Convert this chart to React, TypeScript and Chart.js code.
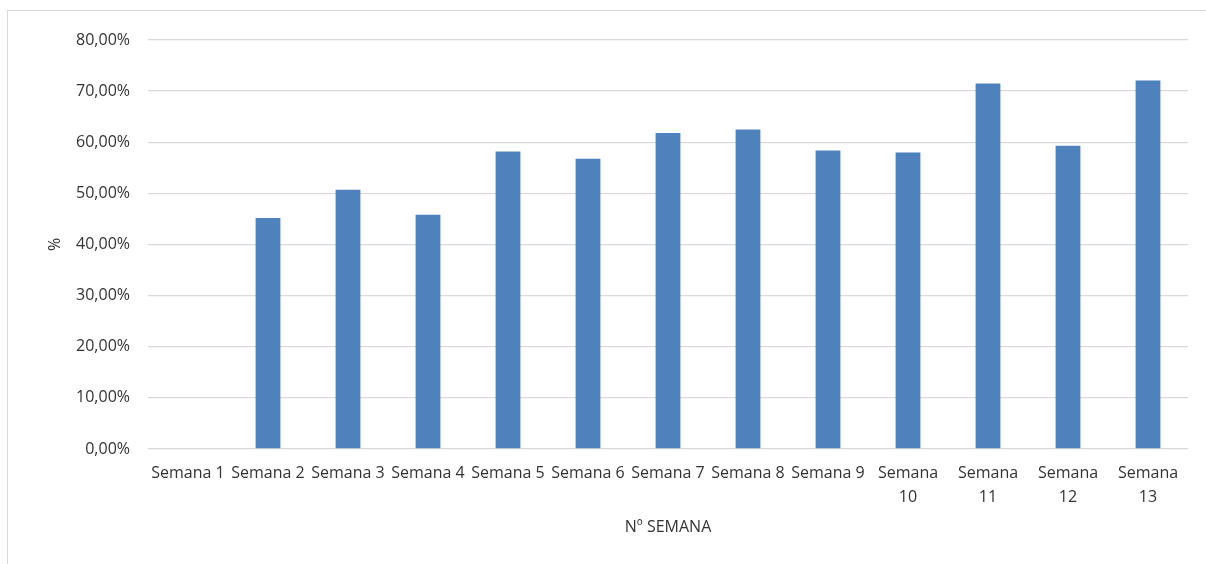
import React, { useEffect, useRef } from "react";
import { Chart, registerables } from "chart.js";

Chart.register(...registerables);

const categories: string[] = [
  "Semana 1", "Semana 2", "Semana 3", "Semana 4", "Semana 5", "Semana 6", "Semana 7",
  "Semana 8", "Semana 9", "Semana 10", "Semana 11", "Semana 12", "Semana 13",
];
const percentValues: number[] = [0, 45.2, 50.7, 45.8, 58.2, 56.75, 61.8, 62.5, 58.4, 58.0, 71.5, 59.3, 72.1];
const yTickValues: number[] = [0, 10, 20, 30, 40, 50, 60, 70, 80];
const xTitle = "Nº SEMANA";
const yTitle = "%";

const FONT = "'Open Sans', 'Noto Sans', sans-serif";
const TEXT = "#333333";

export default function App() {
  const ref = useRef<HTMLCanvasElement | null>(null);
  useEffect(() => {
    if (!ref.current) return;
    const chart = new Chart(ref.current, {
      type: "bar",
      data: {
        labels: categories,
        datasets: [
          {
            data: percentValues,
            backgroundColor: "#4F81BD",
            borderWidth: 0,
            barPercentage: 0.31,
            categoryPercentage: 1,
          },
        ],
      },
      options: {
        responsive: false,
        animation: false,
        maintainAspectRatio: false,
        layout: { padding: { left: 38, right: 18, top: 29, bottom: 27 } },
        plugins: { legend: { display: false }, tooltip: { enabled: false } },
        scales: {
          x: {
            grid: { display: false, drawTicks: false },
            border: { display: false },
            ticks: {
              color: TEXT,
              font: { family: FONT, size: 16, lineHeight: 1.5 },
              padding: 12,
              maxRotation: 0,
              minRotation: 0,
              autoSkip: false,
              callback: function (this: any, _v: any, i: number) {
                const l = categories[i];
                return l.length > 8 ? l.split(" ") : l;
              },
            },
            title: {
              display: true,
              text: xTitle,
              color: TEXT,
              font: { family: FONT, size: 16, lineHeight: 1.2 },
              padding: 0,
            },
            afterFit: (s: any) => {
              s.height = 88;
            },
          },
          y: {
            min: 0,
            max: 80,
            afterBuildTicks: (s: any) => {
              s.ticks = yTickValues.map((v) => ({ value: v }));
            },
            grid: { color: "#d9d9d9", lineWidth: 1.3, drawTicks: false },
            border: { display: false },
            ticks: {
              color: TEXT,
              font: { family: FONT, size: 16 },
              padding: 18,
              callback: (v: any) => Number(v).toFixed(2).replace(".", ",") + "%",
            },
            title: {
              display: true,
              text: yTitle,
              color: TEXT,
              font: { family: FONT, size: 16, lineHeight: 1.2 },
              padding: 0,
            },
            afterFit: (s: any) => {
              s.width = 102;
            },
          },
        },
      },
    });
    return () => chart.destroy();
  }, []);
  return (
    <div
      style={{
        position: "fixed",
        left: 7,
        top: 10,
        width: 1199,
        height: 554,
        borderLeft: "1px solid #d9d9d9",
        borderTop: "1px solid #d9d9d9",
        background: "#fff",
      }}
    >
      <canvas ref={ref} width={1198} height={553} style={{ display: "block" }} />
    </div>
  );
}
